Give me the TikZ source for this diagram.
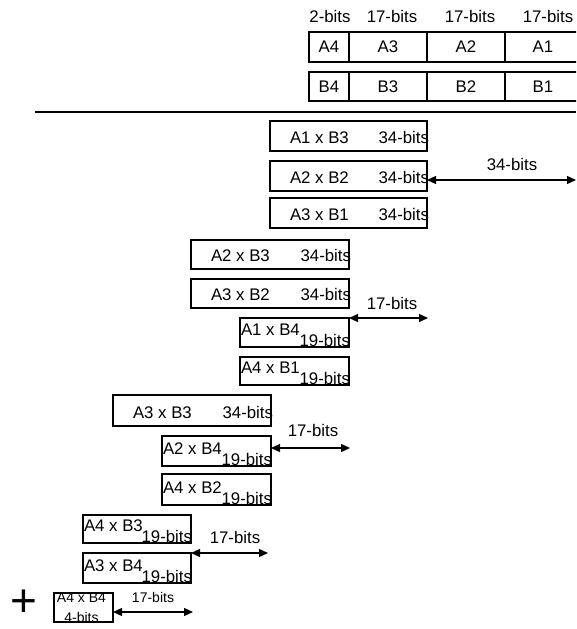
\documentclass[tikz,border=0pt]{standalone}
\usepackage{fontspec}
\setmainfont{Liberation Sans}
\usetikzlibrary{arrows.meta,calc}

\begin{document}
\begin{tikzpicture}[x=1pt,y=-1pt,
  box/.style={draw, line width=1.2pt, inner sep=0pt, outer sep=0pt, anchor=north west},
  txt/.style={inner sep=0pt, outer sep=0pt, font=\fontsize{16.8}{19}\selectfont},
  small/.style={inner sep=0pt, outer sep=0pt, font=\fontsize{14}{16}\selectfont},
  tiny/.style={inner sep=0pt, outer sep=0pt, font=\fontsize{14}{15}\selectfont},
  span/.style={{Triangle[length=9pt,width=8pt]}-{Triangle[length=9pt,width=8pt]}, line width=1.3pt},
  rule/.style={line width=1.2pt}
]
\useasboundingbox (0,0) rectangle (576,629);
\clip (0,0) rectangle (576,629);

% ---- operand words ----
\node[box, minimum width=40pt, minimum height=30pt] (a4) at (309,32) {};
\node[box, minimum width=78pt, minimum height=30pt] (a3) at (349,32) {};
\node[box, minimum width=78pt, minimum height=30pt] (a2) at (427,32) {};
\node[box, minimum width=86pt, minimum height=30pt] (a1) at (505,32) {};
\node[box, minimum width=40pt, minimum height=29pt] (b4) at (309,72) {};
\node[box, minimum width=78pt, minimum height=29pt] (b3) at (349,72) {};
\node[box, minimum width=78pt, minimum height=29pt] (b2) at (427,72) {};
\node[box, minimum width=86pt, minimum height=29pt] (b1) at (505,72) {};
\node[txt] (la4) at (a4) {A4};
\node[txt] (la3) at (a3) {A3};
\node[txt] (la2) at (a2) {A2};
\node[txt, xshift=-5pt] (la1) at (a1) {A1};
\node[txt] (lb4) at (b4) {B4};
\node[txt] (lb3) at (b3) {B3};
\node[txt] (lb2) at (b2) {B2};
\node[txt, xshift=-5pt] (lb1) at (b1) {B1};
\node[txt, anchor=base] (w4) at (330,22) {2-bits};
\node[txt, anchor=base] (w3) at (392,22) {17-bits};
\node[txt, anchor=base] (w2) at (470,22) {17-bits};
\node[txt, anchor=base] (w1) at (548,22) {17-bits};

% ---- separator ----
\coordinate (rl) at (35,112);
\coordinate (rr) at (576,112);
\draw[rule] (rl) -- (rr);

% ---- 34-bit partial products ----
\node[box, minimum width=157pt, minimum height=30pt] (p13) at (270,121) {};
\node[box, minimum width=157pt, minimum height=30pt] (p22) at (270,161) {};
\node[box, minimum width=157pt, minimum height=30pt] (p31) at (270,198) {};
\node[box, minimum width=158pt, minimum height=29pt] (p23) at (191,240) {};
\node[box, minimum width=158pt, minimum height=29pt] (p32) at (191,279) {};
\node[box, minimum width=158pt, minimum height=31pt] (p33) at (113,395) {};

\foreach \p/\t in {p13/A1 x B3, p22/A2 x B2, p31/A3 x B1, p23/A2 x B3, p32/A3 x B2, p33/A3 x B3}{
  \node[txt, anchor=base west] (\p n) at ($(\p.south west)+(20,-8)$) {\t};
  \node[txt, anchor=base east] (\p w) at ($(\p.south east)+(2,-8)$) {34-bits};
}

% ---- 19-bit partial products ----
\node[box, minimum width=109pt, minimum height=29pt] (p14) at (240,318) {};
\node[box, minimum width=109pt, minimum height=28pt] (p41) at (240,357) {};
\node[box, minimum width=109pt, minimum height=30pt] (p24) at (162,436) {};
\node[box, minimum width=109pt, minimum height=31pt] (p42) at (162,474) {};
\node[box, minimum width=108pt, minimum height=28pt] (p43) at (83,515) {};
\node[box, minimum width=108pt, minimum height=30pt] (p34) at (83,553) {};

\foreach \p/\t in {p14/A1 x B4, p41/A4 x B1, p24/A2 x B4, p42/A4 x B2, p43/A4 x B3, p34/A3 x B4}{
  \node[txt, anchor=base west] (\p n) at ($(\p.south west)+(1,-12)$) {\t};
  \node[txt, anchor=base east] (\p w) at ($(\p.south east)+(1,-1)$) {19-bits};
}

% ---- 4-bit partial product ----
\node[box, minimum width=59pt, minimum height=29pt] (p44) at (54,593) {};
\node[tiny, anchor=north] (p44n) at ($(p44.north)+(-2,0)$) {A4 x B4};
\node[tiny, anchor=base] (p44w) at ($(p44.south)+(-2,0)$) {4-bits};

% ---- shift spans ----
\coordinate (s1a) at ($(p22.east)+(0,4)$);
\coordinate (s1b) at (576,180);
\draw[span] (s1a) -- (s1b);
\node[txt, anchor=base] (s1l) at (512,170) {34-bits};

\coordinate (s2b) at (428,318);
\draw[span] (p14.north east) -- (s2b);
\node[txt, anchor=base] (s2l) at (392,309) {17-bits};

\coordinate (s3a) at ($(p24.east)+(0,-3)$);
\coordinate (s3b) at (350,448);
\draw[span] (s3a) -- (s3b);
\node[txt, anchor=base] (s3l) at (313,436) {17-bits};

\coordinate (s4b) at (268,553);
\draw[span] (p34.north east) -- (s4b);
\node[txt, anchor=base] (s4l) at (235,543) {17-bits};

\coordinate (s5a) at ($(p44.east)+(0,4.5)$);
\coordinate (s5b) at (193,612);
\draw[span] (s5a) -- (s5b);
\node[small, anchor=base] (s5l) at (153,602) {17-bits};

% ---- sum sign ----
\node[inner sep=0pt, font=\fontsize{46}{50}\selectfont] (plus) at (24,603) {+};
\end{tikzpicture}
\end{document}
